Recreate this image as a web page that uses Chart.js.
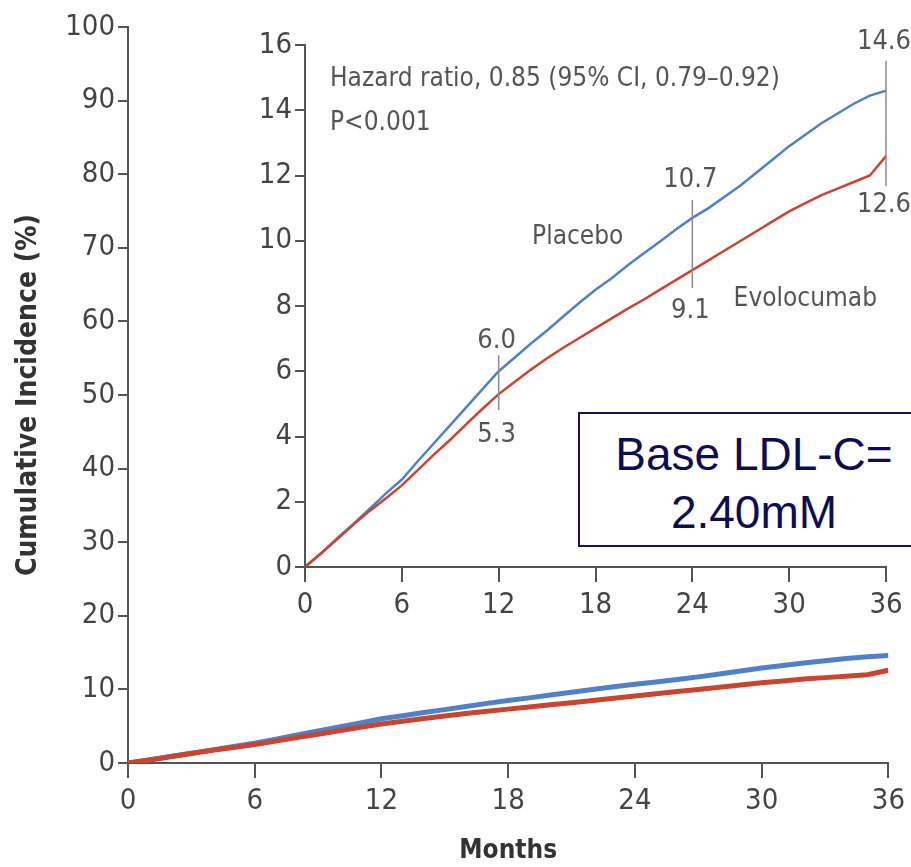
<!DOCTYPE html>
<html><head><meta charset="utf-8">
<script src="https://cdn.jsdelivr.net/npm/chart.js@4.4.0/dist/chart.umd.min.js"></script>
<style>
html,body{margin:0;padding:0;background:#fff;width:911px;height:867px;overflow:hidden}
#wrap{position:relative;width:911px;height:867px;overflow:hidden}
#outer{position:absolute;left:0;top:0}
#inset{position:absolute;left:250px;top:0}
#box{position:absolute;left:578px;top:412px;width:348px;height:120px;padding-top:11px;border:2px solid #14145a;border-right:none;background:#fff;color:#0d0d55;font-family:'Liberation Sans',Arial,sans-serif;font-size:46px;line-height:58px;text-align:center;white-space:nowrap}
</style>
</head><body>
<div id="wrap">
<canvas id="outer" width="911" height="867"></canvas>
<canvas id="inset" width="661" height="640"></canvas>
<div id="box">Base LDL-C=<br>2.40mM</div>
</div>
<script>
// ---- data ----
const months = [0,1,2,3,4,5,6,7,8,9,10,11,12,13,14,15,16,17,18,19,20,21,22,23,24,25,26,27,28,29,30,31,32,33,34,35,36];
const placebo = [0,0.42,0.88,1.32,1.78,2.25,2.68,3.25,3.8,4.35,4.9,5.45,6.0,6.42,6.85,7.25,7.68,8.1,8.5,8.85,9.25,9.62,9.98,10.35,10.7,11.0,11.35,11.7,12.1,12.5,12.9,13.25,13.6,13.9,14.2,14.45,14.6];
const evolocumab = [0,0.42,0.86,1.3,1.72,2.1,2.5,2.98,3.45,3.9,4.38,4.85,5.3,5.68,6.05,6.4,6.72,7.02,7.32,7.62,7.92,8.2,8.5,8.8,9.1,9.4,9.7,10.0,10.3,10.6,10.9,11.15,11.4,11.6,11.8,12.0,12.6];
const markMonths = [12,24,36];
const xTicks = [0,6,12,18,24,30,36];
const outerYTicks = [0,10,20,30,40,50,60,70,80,90,100];
const insetYTicks = [0,2,4,6,8,10,12,14,16];
const seriesNames = ['Placebo','Evolocumab'];
const hazardText = 'Hazard ratio, 0.85 (95% CI, 0.79\u20130.92)';
const pText = 'P<0.001';

// ---- styles ----
const BLUE = '#4f80c8';
const RED = '#c9452f';
const AXIS = '#555';
const TXT = '#444';
const FAM = "'Liberation Sans Narrow','DejaVu Sans Condensed','Arial Narrow',sans-serif";

const pts = arr => months.map((m,i)=>({x:m,y:arr[i]}));

function axisOpts(min,max,ticks,tickLen,fit,isX){
  return {
    type:'linear',min,max,
    afterBuildTicks:s=>{s.ticks=ticks.map(v=>({value:v}));},
    ticks:{font:{family:FAM,size:29},color:TXT,padding:isX?6:3,maxRotation:0,autoSkip:false},
    grid:{drawOnChartArea:false,drawTicks:true,tickLength:tickLen,color:AXIS,lineWidth:2},
    border:{display:true,color:AXIS,width:2},
    afterFit:fit
  };
}

Chart.defaults.font.family = FAM;

// ---- outer chart ----
new Chart(document.getElementById('outer'),{
  type:'line',
  data:{datasets:[
    {label:seriesNames[1],data:pts(evolocumab),borderColor:RED,borderWidth:5,pointRadius:0,tension:0},
    {label:seriesNames[0],data:pts(placebo),borderColor:BLUE,borderWidth:5,pointRadius:0,tension:0}
  ]},
  options:{
    responsive:false,animation:false,
    layout:{padding:{left:0,right:19,top:27,bottom:0}},
    plugins:{legend:{display:false},tooltip:{enabled:false}},
    scales:{
      x:Object.assign(axisOpts(0,36,xTicks,15,s=>{s.height=104;},true),
        {title:{display:true,text:'Months',color:'#333',font:{family:FAM,size:26,weight:'bold'},padding:{top:0,bottom:0}}}),
      y:Object.assign(axisOpts(0,100,outerYTicks,10,s=>{s.width=128;},false),
        {title:{display:true,text:'Cumulative Incidence (%)',color:'#333',font:{family:FAM,size:28,weight:'bold'},padding:{top:12,bottom:0}}})
    }
  }
});

// ---- inset chart ----
const insetText = {
  id:'insetText',
  afterDatasetsDraw(chart){
    const c = chart.ctx, xs = chart.scales.x, ys = chart.scales.y;
    c.save();
    c.fillStyle = '#555';
    c.textBaseline = 'middle';
    c.font = "26px "+FAM;
    c.textAlign='left';
    c.fillText(hazardText, xs.getPixelForValue(1.55), ys.getPixelForValue(14.95));
    c.fillText(pText, xs.getPixelForValue(1.55), ys.getPixelForValue(13.6));
    c.textAlign='center';
    c.fillText(seriesNames[0], xs.getPixelForValue(16.9), ys.getPixelForValue(10.1));
    c.fillText(seriesNames[1], xs.getPixelForValue(31.0), ys.getPixelForValue(8.2));
    const ext = {12:16,24:18,36:30};
    const offHi = {12:30,24:38,36:49};
    const offLo = {12:41,24:41,36:49};
    c.font = "27px "+FAM;
    markMonths.forEach(m=>{
      const i = months.indexOf(m);
      const x = xs.getPixelForValue(m);
      const yHi = ys.getPixelForValue(placebo[i]);
      const yLo = ys.getPixelForValue(evolocumab[i]);
      c.strokeStyle='#8a8a8a'; c.lineWidth=1.5;
      c.beginPath(); c.moveTo(x,yHi-ext[m]); c.lineTo(x,yLo+ext[m]); c.stroke();
      c.fillStyle='#555';
      c.fillText(placebo[i].toFixed(1), x-2, yHi-offHi[m]);
      c.fillText(evolocumab[i].toFixed(1), x-2, yLo+offLo[m]);
    });
    c.restore();
  }
};

new Chart(document.getElementById('inset'),{
  type:'line',
  data:{datasets:[
    {label:seriesNames[1],data:pts(evolocumab),borderColor:RED,borderWidth:2.5,pointRadius:0,tension:0},
    {label:seriesNames[0],data:pts(placebo),borderColor:BLUE,borderWidth:2.5,pointRadius:0,tension:0}
  ]},
  options:{
    responsive:false,animation:false,
    layout:{padding:{left:0,right:25,top:45,bottom:0}},
    plugins:{legend:{display:false},tooltip:{enabled:false}},
    scales:{
      x:axisOpts(0,36,xTicks,15,s=>{s.height=73;},true),
      y:axisOpts(0,16,insetYTicks,10,s=>{s.width=55;},false)
    }
  },
  plugins:[insetText]
});
</script>
</body></html>
